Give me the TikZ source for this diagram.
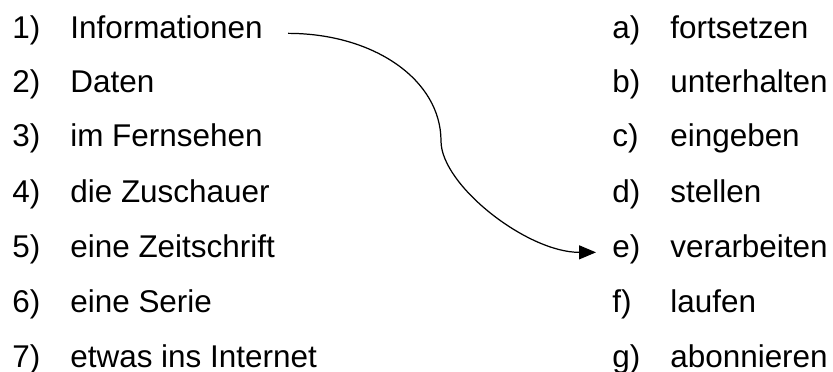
\documentclass[tikz,border=0pt]{standalone}
\usepackage{fontspec}
\setmainfont{Liberation Sans}
\usetikzlibrary{arrows.meta}
\tikzset{item/.style={anchor=base west,inner sep=0pt,font=\fontsize{17.9pt}{21pt}\selectfont},
 link/.style={line width=0.7pt,-{Triangle[length=0.34cm,width=0.28cm]}},
 }

\begin{document}
\begin{tikzpicture}[x=0.02cm,y=-0.02cm]
        \useasboundingbox (0,0) rectangle (833,372);
        % left column
        \node[item] (n1) at (12,38) {1)};
        \node[item] (n2) at (12,92) {2)};
        \node[item] (n3) at (12,146) {3)};
        \node[item] (n4) at (12,202) {4)};
        \node[item] (n5) at (12,257) {5)};
        \node[item] (n6) at (12,312) {6)};
        \node[item] (n7) at (12,367) {7)};
        \node[item] (t1) at (70,38) {Informationen};
        \node[item] (t2) at (70,92) {Daten};
        \node[item] (t3) at (70,146) {im Fernsehen};
        \node[item] (t4) at (70,202) {die Zuschauer};
        \node[item] (t5) at (70,257) {eine Zeitschrift};
        \node[item] (t6) at (70,312) {eine Serie};
        \node[item] (t7) at (70,367) {etwas ins Internet};
        % right column
        \node[item] (ra) at (612,38) {a)};
        \node[item] (rb) at (612,92) {b)};
        \node[item] (rc) at (612,146) {c)};
        \node[item] (rd) at (612,202) {d)};
        \node[item] (re) at (612,257) {e)};
        \node[item] (rf) at (612,312) {f)};
        \node[item] (rg) at (612,367) {g)};
        \node[item] (va) at (670,38) {fortsetzen};
        \node[item] (vb) at (670,92) {unterhalten};
        \node[item] (vc) at (670,146) {eingeben};
        \node[item] (vd) at (670,202) {stellen};
        \node[item] (ve) at (670,257) {verarbeiten};
        \node[item] (vf) at (670,312) {laufen};
        \node[item] (vg) at (670,367) {abonnieren};
        % example answer
        \coordinate (bend) at (441,141);
        \draw[link, shorten <=0.5cm, shorten >=0.32cm] (t1.mid east)
            .. controls +(111,0) and +(0,-61) .. (bend)
            .. controls +(0,44) and +(-85,0) .. (re.mid west);
    \end{tikzpicture}
\end{document}
